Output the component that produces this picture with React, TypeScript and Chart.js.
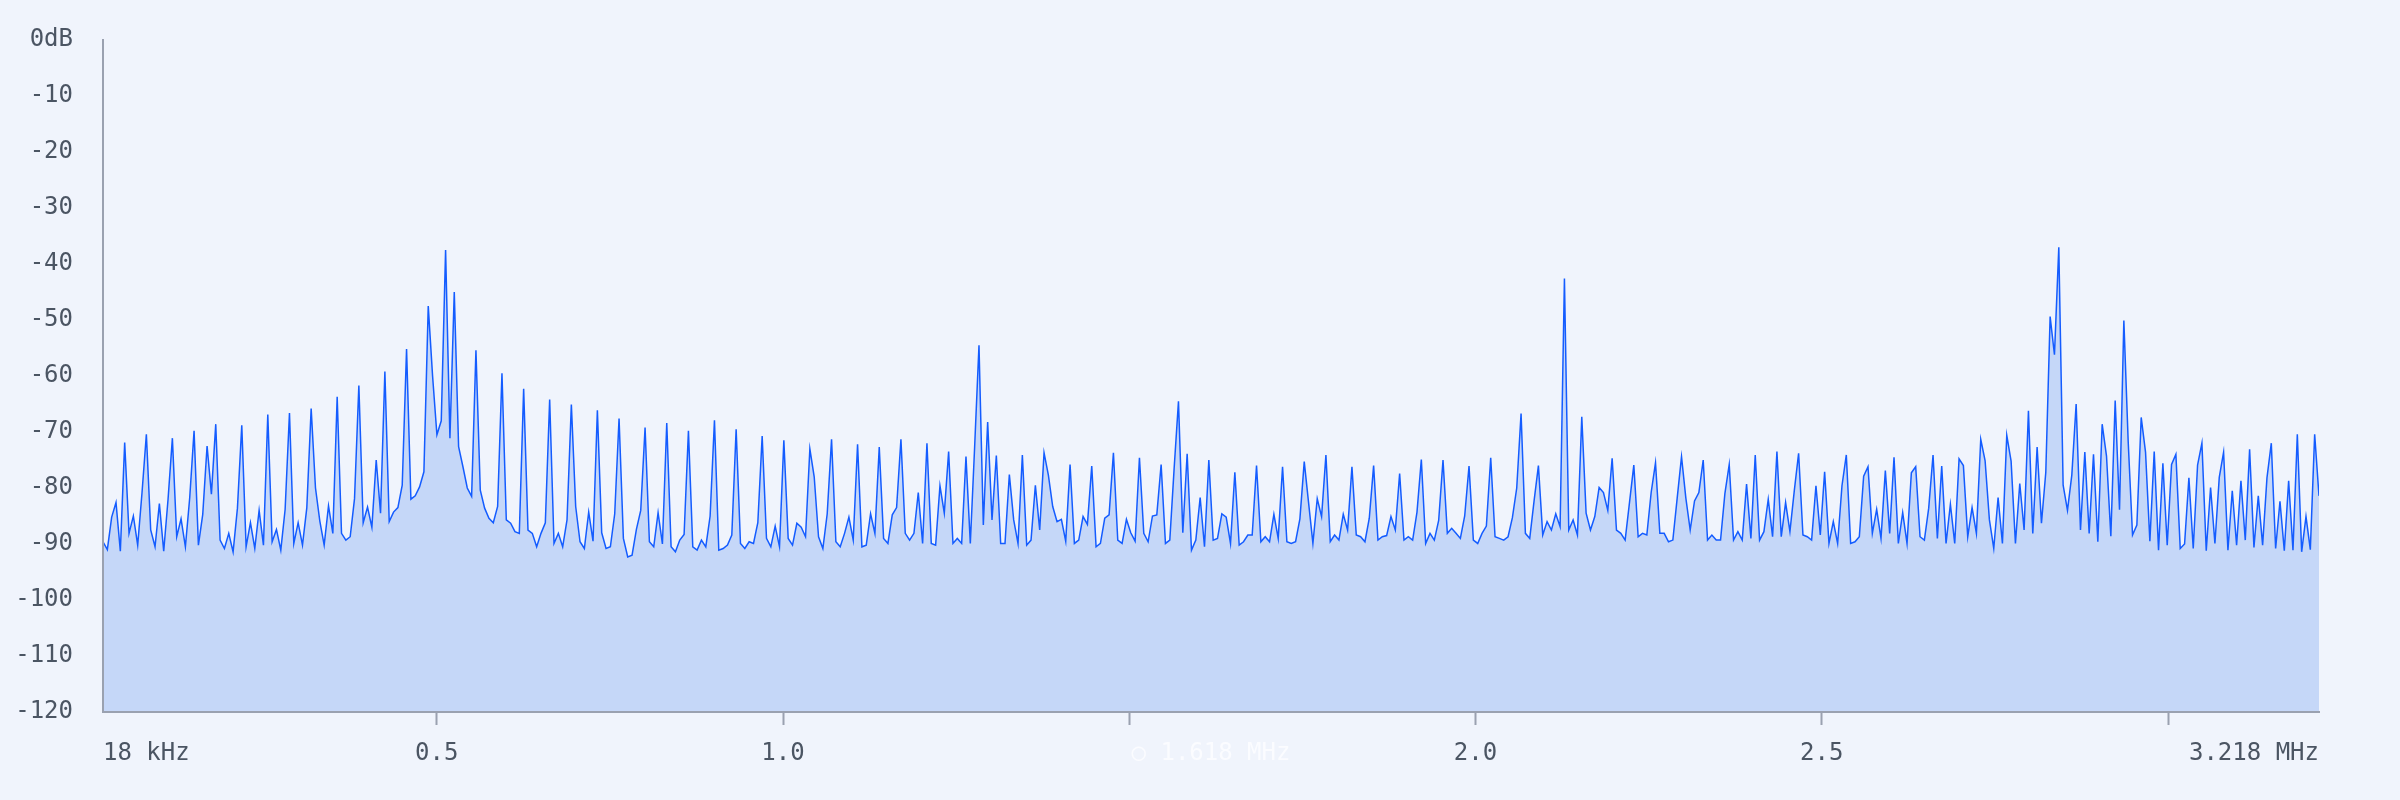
import { useEffect, useRef } from 'react';
import { Chart, registerables } from 'chart.js';

Chart.register(...registerables);

// Sweep span (MHz) of the trace
const FREQ_START_MHZ = 0.018;
const FREQ_STOP_MHZ = 3.218;

// Trace levels (dB), one per bin from start to stop
const LEVELS_DB = [
  -89.6, -91, -85.2, -82.6, -91.3, -71.9, -88.1, -85, -90.2, -80.8,
  -70.4, -87.5, -90.5, -82.8, -91.3, -82, -71.1, -88.7, -85.5, -90.5,
  -81.7, -69.8, -90.2, -84.7, -72.5, -81.1, -68.6, -89.3, -90.8, -88.1,
  -91.4, -83.6, -68.8, -90.5, -86.2, -90.8, -84, -90.2, -66.9, -89.6,
  -87.4, -91.1, -83.8, -66.6, -89.9, -86.2, -90.2, -83.5, -65.8, -80,
  -85.9, -90.2, -83.2, -88.1, -63.7, -88.1, -89.3, -88.7, -81.9, -61.7,
  -86.2, -83.4, -87, -75, -84.5, -59.2, -86, -84.3, -83.5, -79.5,
  -55.2, -82, -81.4, -79.8, -77.1, -47.5, -60, -70.5, -68, -37.5,
  -71.1, -45, -72.6, -76.2, -80, -81.5, -55.4, -80.4, -83.6, -85.4,
  -86.2, -83.3, -59.5, -85.7, -86.3, -87.8, -88.1, -62.3, -87.5, -88.1,
  -90.5, -88.1, -86.2, -64.2, -89.9, -88.1, -90.5, -85.7, -65.1, -83.3,
  -89.6, -90.8, -84.3, -89.5, -66.1, -88, -90.8, -90.5, -84.6, -67.6,
  -89, -92.3, -92, -87.4, -84, -69.2, -89.6, -90.5, -84.4, -90,
  -68.4, -90.5, -91.4, -89.3, -88.3, -69.8, -90.5, -91.1, -89.3, -90.5,
  -85, -67.9, -91.1, -90.8, -90.2, -88.4, -69.5, -89.9, -90.8, -89.6,
  -89.9, -86.2, -70.7, -89, -90.5, -86.8, -90.5, -71.5, -89, -90.2,
  -86.3, -87, -88.7, -73, -78, -88.7, -90.8, -84.6, -71.3, -89.6,
  -90.5, -88.1, -85.2, -89.3, -72.2, -90.5, -90.2, -84.6, -88.1, -72.7,
  -89, -89.9, -84.8, -83.5, -71.3, -88.1, -89.3, -88.1, -80.8, -89.9,
  -72, -89.9, -90.2, -79.6, -84.5, -73.5, -89.9, -89, -89.9, -74.4,
  -89.9, -72.6, -54.5, -86.6, -68.2, -85.7, -74.2, -89.9, -89.9, -77.6,
  -85.7, -89.9, -74.1, -90.2, -89.3, -79.5, -87.5, -73.7, -77.7, -83.3,
  -86, -85.6, -89.5, -75.8, -89.9, -89.3, -85.1, -86.5, -76.1, -90.5,
  -89.9, -85.4, -84.8, -73.7, -89.3, -89.9, -85.6, -88, -89.5, -74.6,
  -88.1, -89.6, -85, -84.8, -75.8, -89.9, -89.3, -76.5, -64.5, -88,
  -73.9, -91.1, -89.3, -81.7, -90.5, -75, -89.3, -89, -84.6, -85.2,
  -89.9, -77.2, -90.2, -89.6, -88.4, -88.4, -76, -89.6, -88.7, -89.6,
  -84.7, -89, -76.2, -89.6, -89.9, -89.6, -85.5, -75.3, -82.6, -89.9,
  -81.9, -85.1, -74.1, -89.6, -88.4, -89.3, -84.7, -87.5, -76.2, -88.4,
  -88.7, -89.6, -85.4, -76, -89.3, -88.7, -88.5, -85.1, -87.5, -77.4,
  -89.3, -88.7, -89.3, -84.3, -74.9, -89.9, -88.1, -89.3, -85.8, -75,
  -88.1, -87.2, -88.1, -89, -85, -76.1, -89.3, -89.9, -88.1, -86.8,
  -74.6, -88.7, -89, -89.3, -88.7, -85.3, -80, -66.7, -88.1, -89,
  -82.3, -76, -88.4, -86, -87.5, -84.6, -86.9, -42.6, -87.5, -85.7,
  -88.4, -67.3, -84.5, -87.5, -85.1, -79.9, -80.8, -84, -74.7, -87.5,
  -88.1, -89.3, -82.6, -75.9, -88.7, -88.1, -88.4, -80.8, -75.5, -88.1,
  -88.1, -89.6, -89.3, -81.8, -74.4, -81.8, -87.5, -82.3, -80.8, -75,
  -89.3, -88.4, -89.3, -89.3, -81, -75.8, -89.3, -87.8, -89.3, -79.3,
  -89, -74.1, -89.3, -87.8, -82, -88.7, -73.5, -88.7, -82.6, -87.8,
  -80.5, -73.8, -88.4, -88.7, -89.3, -79.6, -88.4, -77.1, -89.9, -86,
  -89.9, -79.6, -74.1, -89.9, -89.6, -88.7, -77.9, -76.2, -88.1, -83.8,
  -89, -76.9, -88.1, -74.5, -89.9, -84.4, -89.9, -77.3, -76.2, -88.7,
  -89.3, -83.6, -74.1, -89, -76.1, -89.9, -82.9, -89.9, -74.8, -76,
  -88.7, -83.5, -88.1, -71.3, -75.1, -85.7, -90.8, -81.7, -89.9, -70.6,
  -75.2, -89.9, -79.2, -87.5, -66.2, -88.1, -72.7, -86.3, -77.2, -49.4,
  -56.2, -37, -79.5, -84, -77.7, -65, -87.5, -73.6, -88.1, -74,
  -89.6, -68.6, -74.3, -88.6, -64.4, -83.9, -50.1, -71.7, -88.4, -86.6,
  -67.4, -73.6, -89.5, -73.5, -91.1, -75.6, -90.2, -75.8, -74, -90.8,
  -90, -78.2, -90.8, -75.9, -72, -91.2, -79.9, -89.9, -78.1, -73.6,
  -91.1, -80.5, -90.2, -78.7, -89.3, -73.1, -90.6, -81.4, -90.2, -78.2,
  -72, -90.8, -82.4, -91.2, -78.7, -91.1, -70.4, -91.4, -85.1, -91,
  -70.4, -81.4,
];

// Level axis
const Y_TICK_VALUES = [-120, -110, -100, -90, -80, -70, -60, -50, -40, -30, -20, -10, 0];
const Y_TICK_LABELS = ['-120', '-110', '-100', '-90', '-80', '-70', '-60', '-50', '-40', '-30', '-20', '-10', '0dB'];

// Frequency axis
const X_TICK_VALUES = [0.018, 0.5, 1.0, 1.5, 1.618, 2.0, 2.5, 3.0, 3.218];
const X_TICK_LABELS = ['18 kHz', '0.5', '1.0', '', '\u25CB 1.618 MHz', '2.0', '2.5', '', '3.218 MHz'];
const X_TICK_MARKED = [false, true, true, true, false, true, true, true, false];
const X_TICK_FAINT = [false, false, false, false, true, false, false, false, false];

const BG = '#f0f4fc';
const LINE = '#145cff';
const FILL = '#c5d7f8';
const AXIS = '#9aa1b0';
const TEXT = '#4b5563';
const FAINT = '#fbfcff';
const FONT = "'DejaVu Sans Mono', monospace";

export default function App() {
  const ref = useRef<HTMLCanvasElement>(null);

  useEffect(() => {
    document.body.style.margin = '0';
    document.body.style.background = BG;
    const n = LEVELS_DB.length;
    const step = (FREQ_STOP_MHZ - FREQ_START_MHZ) / (n - 1);
    const points = LEVELS_DB.map((db, i) => ({ x: FREQ_START_MHZ + i * step, y: db }));

    const chart = new Chart(ref.current as HTMLCanvasElement, {
      type: 'line',
      data: {
        datasets: [
          {
            data: points,
            borderColor: LINE,
            backgroundColor: FILL,
            borderWidth: 1.5,
            pointRadius: 0,
            fill: 'start',
            tension: 0,
          },
        ],
      },
      options: {
        animation: false,
        responsive: false,
        devicePixelRatio: 1,
        layout: { padding: { top: 40, right: 81, bottom: 32, left: 0 } },
        plugins: { legend: { display: false }, tooltip: { enabled: false } },
        scales: {
          x: {
            type: 'linear',
            min: FREQ_START_MHZ,
            max: FREQ_STOP_MHZ,
            afterBuildTicks: (s: any) => {
              s.ticks = X_TICK_VALUES.map((v) => ({ value: v }));
            },
            afterFit: (s: any) => {
              s.height = 56;
              s.paddingLeft = 0;
              s.paddingRight = 0;
            },
            grid: {
              display: true,
              drawOnChartArea: false,
              drawTicks: true,
              tickLength: 13,
              tickWidth: 2,
              color: AXIS,
              tickColor: (ctx: any) => (X_TICK_MARKED[ctx.index] ? AXIS : 'rgba(0,0,0,0)'),
            },
            border: { display: true, color: AXIS, width: 2, z: 1 },
            ticks: {
              autoSkip: false,
              maxRotation: 0,
              minRotation: 0,
              align: 'inner',
              padding: 14,
              font: { family: FONT, size: 24 },
              color: (ctx: any) => (X_TICK_FAINT[ctx.index] ? FAINT : TEXT),
              callback: (_v: any, i: number) => X_TICK_LABELS[i],
            },
          },
          y: {
            type: 'linear',
            min: Y_TICK_VALUES[0],
            max: Y_TICK_VALUES[Y_TICK_VALUES.length - 1],
            afterBuildTicks: (s: any) => {
              s.ticks = Y_TICK_VALUES.map((v) => ({ value: v }));
            },
            afterFit: (s: any) => {
              s.width = 103;
              s.paddingTop = 0;
              s.paddingBottom = 0;
            },
            grid: { display: false, drawTicks: false },
            border: { display: true, color: AXIS, width: 2, z: 1 },
            ticks: {
              padding: 30,
              font: { family: FONT, size: 24 },
              color: TEXT,
              callback: (_v: any, i: number) => Y_TICK_LABELS[i],
            },
          },
        },
      },
    } as any);
    return () => chart.destroy();
  }, []);

  return (
    <div style={{ width: 2400, height: 800, background: BG }}>
      <canvas ref={ref} width={2400} height={800} style={{ display: 'block', width: 2400, height: 800 }} />
    </div>
  );
}
